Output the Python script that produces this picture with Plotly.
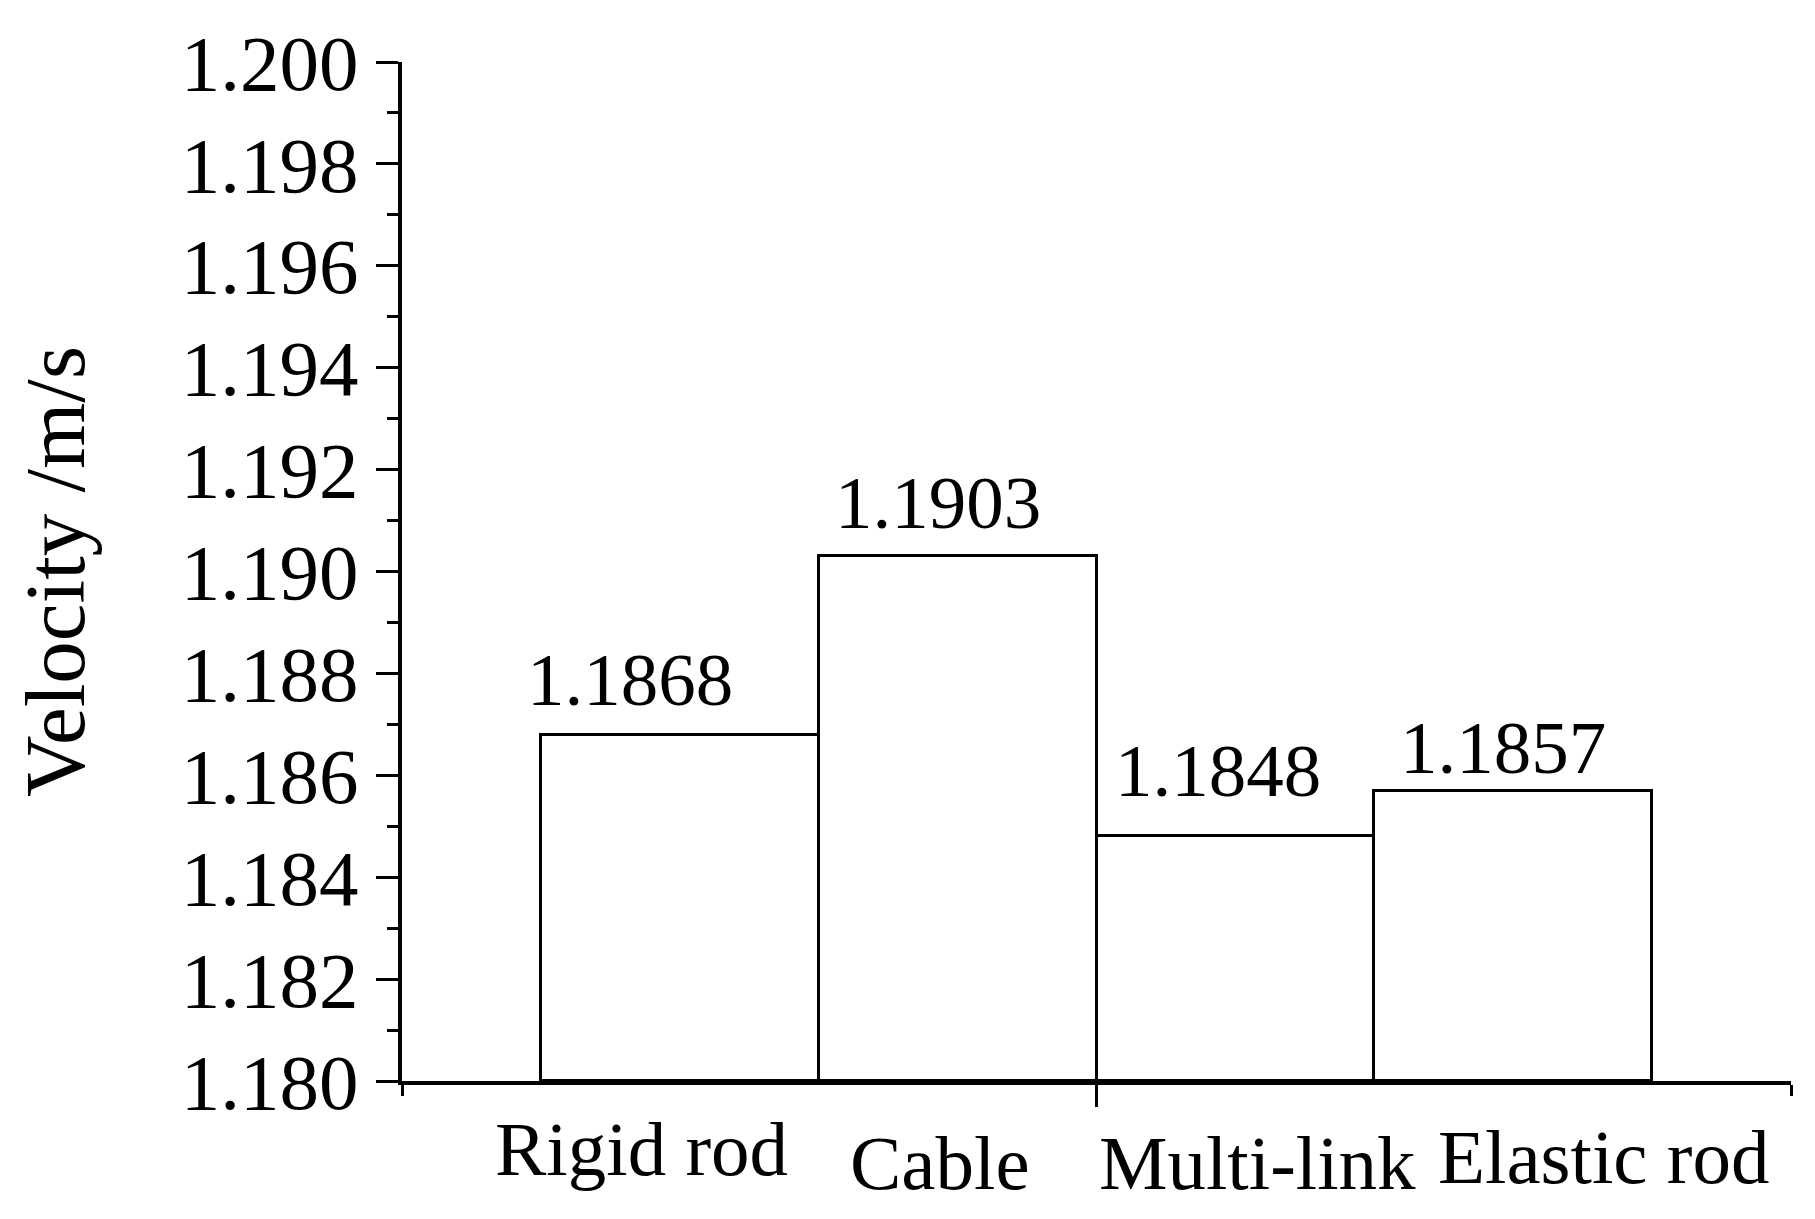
import plotly.graph_objects as go

# data
categories = ['Rigid rod', 'Cable', 'Multi-link', 'Elastic rod']
velocity = [1.1868, 1.1903, 1.1848, 1.1857]
value_labels = ['1.1868', '1.1903', '1.1848', '1.1857']
y_ticks = [1.180, 1.182, 1.184, 1.186, 1.188, 1.190, 1.192, 1.194, 1.196, 1.198, 1.200]

positions = [1, 2, 3, 4]
base = 1.18

# label offsets (px), the original labels are not centred on the bars
value_xshift = [-50, -20, -17, -10]
value_yshift = [12, 10, 22, 0]
cat_xshift = [-38, -18, 22, 90]
cat_yshift = [-68, -82, -82, -76]

font = 'Liberation Serif, Times New Roman, serif'

fig = go.Figure()
# bars are drawn from the axis floor, so y holds the height above it
fig.add_trace(go.Bar(x=positions, y=[v - base for v in velocity], base=base, width=1,
                     marker=dict(color='white', line=dict(color='black', width=3)),
                     showlegend=False, hoverinfo='skip'))

for i, p in enumerate(positions):
    fig.add_annotation(x=p, y=velocity[i], text=value_labels[i], showarrow=False,
                       xanchor='center', yanchor='bottom',
                       xshift=value_xshift[i], yshift=value_yshift[i],
                       font=dict(family=font, size=75, color='black'))
    fig.add_annotation(x=p, y=0, yref='paper', text=categories[i], showarrow=False,
                       xanchor='center', yanchor='middle',
                       xshift=cat_xshift[i], yshift=cat_yshift[i],
                       font=dict(family=font, size=77, color='black'))

fig.update_xaxes(range=[0, 5], showline=True, linecolor='black', linewidth=3.5,
                 tickvals=[2.5], ticktext=[''], ticks='outside', ticklen=22,
                 tickwidth=3, tickcolor='black', showgrid=False, zeroline=False,
                 automargin=False,
                 minor=dict(tick0=0, dtick=5, ticks='outside', ticklen=11,
                            tickwidth=3, tickcolor='black', showgrid=False))
fig.update_yaxes(range=[1.18, 1.2], tickvals=y_ticks, tickformat='.3f',
                 showline=True, linecolor='black', linewidth=3.5,
                 ticks='outside', ticklen=22, tickwidth=3, tickcolor='black',
                 showgrid=False, zeroline=False, ticklabelstandoff=2,
                 automargin=False,
                 tickfont=dict(family=font, size=79, color='black'),
                 minor=dict(dtick=0.001, ticks='outside', ticklen=11,
                            tickwidth=3, tickcolor='black', showgrid=False),
                 title=dict(text='Velocity /m/s', standoff=78,
                            font=dict(family=font, size=85, color='black')))

# the page body adds an 8px margin, so the figure is 8px smaller and shifted
fig.update_layout(width=1807, height=1211, plot_bgcolor='white', paper_bgcolor='white',
                  margin=dict(l=394, r=24, t=54, b=138), bargap=0)

fig.write_html('out.html')
